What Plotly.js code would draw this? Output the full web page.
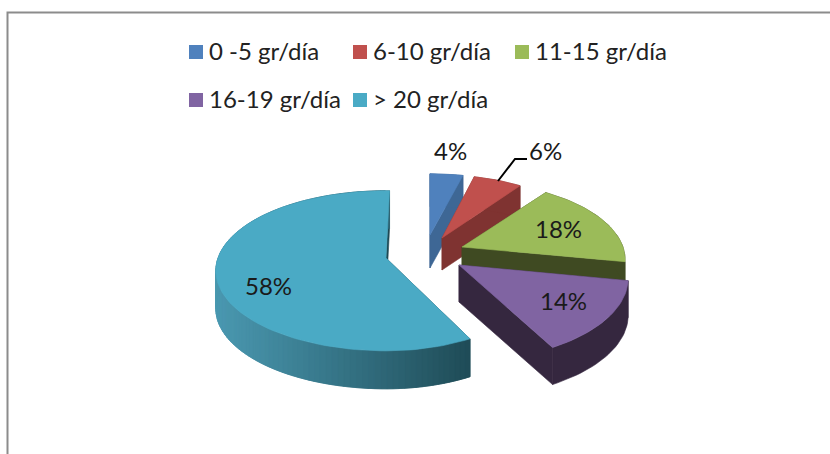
<!DOCTYPE html>
<html>
<head>
<meta charset="utf-8">
<script src="https://cdn.plot.ly/plotly-3.0.1.min.js"></script>
<style>html,body{margin:0;padding:0;background:#fff}#chart{width:830px;height:454px}</style>
</head>
<body>
<div id="chart"></div>
<script>
// Consumption groups and their share of the total, in percent
const categories = ['0 -5 gr/día', '6-10 gr/día', '11-15 gr/día', '16-19 gr/día', '> 20 gr/día'];
const shares = [4, 6, 18, 14, 58];
const dataLabels = ['4%', '6%', '18%', '14%', '58%'];

// Face colours per slice
const topColors = ['#4f81bd', '#c0504d', '#9bbb59', '#8064a2', '#4aaac5'];
const wallColors = ['#3e6795', '#7f3331', '#3f4a22', '#35273f', '#1e4a55'];

// Placement of each exploded slice on the page
const hubX = [430, 442, 462, 459, 386];
const hubY = [235, 238, 247, 265, 258];
const radiusLeft = [153, 150, 161, 167, 168];
const radiusRight = [153, 150, 161, 167, 157];
const radiusY = [71, 73, 76, 81, 78];
const depth = [33, 32, 36, 37, 38];
const startTilt = [0, 0, 0, 0, 1.5];
const perspective = 0.16;

const FONT = 'Lato, "Open Sans", sans-serif';
const rad = d => d * Math.PI / 180;

// Projects a rim angle (clockwise from 12 o'clock) of slice i onto the tilted disc
function rim(i, deg) {
  const X = Math.sin(rad(deg)), Y = Math.cos(rad(deg));
  const w = 1 + perspective * Y;
  const r = X < 0 ? radiusLeft[i] : radiusRight[i];
  return [hubX[i] + r * X / w, hubY[i] - radiusY[i] * Y / w];
}

function poly(pts, color, name) {
  return {
    type: 'scatter', mode: 'lines', fill: 'toself', fillcolor: color,
    x: pts.map(p => p[0]), y: pts.map(p => p[1]),
    line: {color: color, width: 0.6}, hoverinfo: 'skip', showlegend: false, name: name
  };
}

// Shading of the large slice's outer wall, light on the left and dark on the right
function wallShade(t) {
  const a = [74, 152, 176], b = [30, 74, 85];
  const c = a.map((v, k) => Math.round(v + (b[k] - v) * t));
  return `rgb(${c[0]},${c[1]},${c[2]})`;
}

const traces = [];
let cum = 0;
shares.forEach((share, i) => {
  const a0 = cum * 3.6 + startTilt[i];
  const a1 = (cum + share) * 3.6 + startTilt[i];
  cum += share;
  const hub = [hubX[i], hubY[i]];
  const steps = Math.max(12, Math.round(share * 2));
  const arc = [];
  for (let s = 0; s <= steps; s++) arc.push(rim(i, a0 + (a1 - a0) * s / steps));
  const drop = p => [p[0], p[1] + depth[i]];

  // Straight cut walls from the hub to both ends of the arc
  [arc[0], arc[arc.length - 1]].forEach(end => {
    traces.push(poly([hub, end, drop(end), drop(hub), hub], wallColors[i], categories[i]));
  });
  // Outer wall: a shaded run of overlapping strips on the big slice, one solid band elsewhere
  if (i === 4) {
    const xMin = Math.min(...arc.map(p => p[0])), xMax = Math.max(...arc.map(p => p[0]));
    for (let s = 0; s < steps; s++) {
      const p = arc[s], q = arc[Math.max(0, s - 1)], n = arc[s + 1];
      const t = ((p[0] + n[0]) / 2 - xMin) / (xMax - xMin);
      traces.push(poly([q, n, drop(n), drop(q), q], wallShade(t), categories[i]));
    }
  } else {
    traces.push(poly([...arc, ...arc.slice().reverse().map(drop), arc[0]], wallColors[i], categories[i]));
  }
  // Top face
  traces.push(poly([hub, ...arc, hub], topColors[i], categories[i]));
});

// Legend rows: swatch centres and text starts
const legendX = [196, 360, 522, 196, 360];
const legendY = [52, 52, 52, 100, 100];
const legendTextX = [207, 371, 533, 207, 371];
const legendTextY = [50, 50, 50, 98, 98];
const labelX = [450, 545, 558, 563, 268];
const labelY = [150, 150, 228, 300, 285];

traces.push({
  type: 'scatter', mode: 'markers', x: legendX, y: legendY,
  marker: {symbol: 'square', size: 14, color: topColors},
  hoverinfo: 'skip', showlegend: false
});

const annotations = [];
categories.forEach((c, i) => annotations.push({
  text: c, x: legendTextX[i], y: legendTextY[i], xref: 'x', yref: 'y', showarrow: false,
  xanchor: 'left', yanchor: 'middle', font: {family: FONT, size: 24, color: '#222'}
}));
dataLabels.forEach((t, i) => annotations.push({
  text: t, x: labelX[i], y: labelY[i], xref: 'x', yref: 'y', showarrow: false,
  xanchor: 'center', yanchor: 'middle', font: {family: FONT, size: 24, color: '#1a1a1a'}
}));

const layout = {
  width: 830, height: 454, margin: {l: 0, r: 0, t: 0, b: 0},
  paper_bgcolor: '#fff', plot_bgcolor: '#fff', showlegend: false,
  xaxis: {range: [0, 830], visible: false, fixedrange: true},
  yaxis: {range: [454, 0], visible: false, fixedrange: true},
  annotations,
  shapes: [
    {type: 'path', path: 'M 7.5 454 L 7.5 12.5 L 830 12.5', xref: 'x', yref: 'y', line: {color: '#8c8c8c', width: 2}},
    {type: 'path', path: 'M 498 181 L 515 159 L 527 159', xref: 'x', yref: 'y', line: {color: '#000', width: 2}}
  ]
};

Plotly.newPlot('chart', traces, layout, {displayModeBar: false, staticPlot: true});
</script>
</body>
</html>
